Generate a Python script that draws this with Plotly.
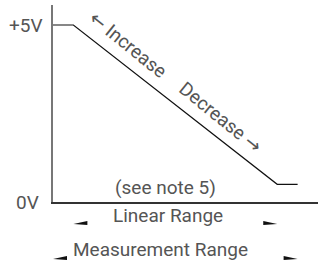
import plotly.graph_objects as go

# Schematic data: position along range (arbitrary units) vs output voltage
x_pos = [0, 1, 11, 12]          # measurement start, linear start, linear end, measurement end
volts = [5.0, 5.0, 0.5, 0.5]    # output voltage at those positions
y_ticks = [5, 0]
y_tick_labels = ["+5V", "0V"]
linear_range = [1, 11]
measurement_range = [0, 12]

TEXT = "#555555"
FONT = "Roboto"
FS = 19
ARROW = "<span style='font-family:DejaVu Sans'>{}</span>"

fig = go.Figure()
fig.add_trace(go.Scatter(x=x_pos, y=volts, mode="lines",
                         line=dict(color="#111111", width=1.2),
                         hoverinfo="skip", showlegend=False))

ann = []
# y labels
for v, lab, shift in zip(y_ticks, y_tick_labels, [-8, -12]):
    ann.append(dict(x=0, y=v, xref="paper", yref="y", text=lab, showarrow=False,
                    xanchor="right", yanchor="middle", xshift=shift,
                    font=dict(family=FONT, size=FS, color=TEXT)))
# slanted labels
ann.append(dict(x=3.68, y=4.46, text=ARROW.format("\u2190") + " Increase", showarrow=False,
                textangle=39, font=dict(family=FONT, size=FS, color=TEXT)))
ann.append(dict(x=8.24, y=2.40, text="Decrease " + ARROW.format("\u2192"), showarrow=False,
                textangle=39, font=dict(family=FONT, size=FS, color=TEXT)))
ann.append(dict(x=5.54, y=0.40, text="(see note 5)", showarrow=False,
                font=dict(family=FONT, size=FS, color=TEXT)))
ann.append(dict(x=5.62, y=-0.066, yref="paper", yanchor="middle", text="Linear Range",
                showarrow=False, font=dict(family=FONT, size=FS, color=TEXT)))
ann.append(dict(x=5.25, y=-0.241, yref="paper", yanchor="middle", text="Measurement Range",
                showarrow=False, font=dict(family=FONT, size=FS, color=TEXT)))

# small wedge arrowheads marking range ends
PX_X = 13 / 265.0   # data units per px (x)
PX_Y = 1 / 197.0    # paper units per px (y)
L = 14 * PX_X
shapes = []
def wedges(rng, ybot_px):
    yb = -ybot_px * PX_Y
    out = []
    for tip, d in ((rng[0], 1), (rng[1], -1)):
        base = tip + d * L
        path = (f"M {tip},{yb + 1*PX_Y} L {base},{yb + 4*PX_Y} "
                f"L {base},{yb} Z")
        out.append(dict(type="path", xref="x", yref="paper", path=path,
                        fillcolor="#111111", line=dict(width=0)))
    return out
shapes += wedges(linear_range, 23)
shapes += wedges(measurement_range, 58)

fig.update_layout(
    width=318, height=266,
    margin=dict(l=53, r=0, t=5, b=64),
    paper_bgcolor="white", plot_bgcolor="white",
    xaxis=dict(range=[0, 13], showgrid=False, zeroline=False, showticklabels=False,
               ticks="", showline=True, linecolor="#333333", linewidth=1.5, fixedrange=True),
    yaxis=dict(range=[0, 5.565], showgrid=False, zeroline=False, showticklabels=False,
               ticks="", showline=True, linecolor="#777777", linewidth=2, fixedrange=True),
    annotations=ann, shapes=shapes, showlegend=False,
)
fig.write_html("out.html", config={"displayModeBar": False},
               post_script="document.body.style.margin='0';document.body.style.overflow='hidden';")
